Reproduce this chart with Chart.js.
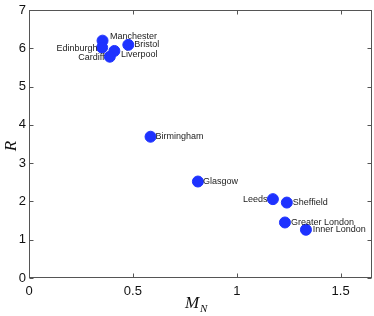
<!DOCTYPE html>
<html>
<head>
<meta charset="utf-8">
<script src="https://cdn.jsdelivr.net/npm/chart.js@4"></script>
<style>
  html, body { margin: 0; padding: 0; background: #fff; }
  #wrap { width: 374px; height: 316px; }
</style>
</head>
<body>
<div id="wrap"><canvas id="chart" width="374" height="316"></canvas></div>
<script>
const cities = ['Manchester', 'Edinburgh', 'Bristol', 'Liverpool', 'Cardiff', 'Birmingham',
                'Glasgow', 'Leeds', 'Sheffield', 'Greater London', 'Inner London'];
const mN = [0.354, 0.352, 0.478, 0.411, 0.389, 0.585, 0.813, 1.174, 1.241, 1.232, 1.333];
const rVals = [6.2, 6.02, 6.09, 5.93, 5.78, 3.69, 2.52, 2.06, 1.97, 1.45, 1.26];
const xTicks = [0, 0.5, 1, 1.5];
const yTicks = [0, 1, 2, 3, 4, 5, 6, 7];

const BLUE = '#1e32ff';
const AXIS = '#555';
const labelsLeft = ['Edinburgh', 'Cardiff', 'Leeds'];
const labelNudge = {
  'Manchester': [1.5, -4.3], 'Liverpool': [0.5, 3.4], 'Cardiff': [0, 0.7],
  'Edinburgh': [0.8, 0.7], 'Birmingham': [-1, 0], 'Glasgow': [-1, 0], 'Inner London': [0.7, 0]
};

const frame = {
  id: 'frame',
  afterDatasetsDraw(chart) {
    const { ctx, chartArea: a, scales: { x, y } } = chart;
    ctx.save();
    // point labels
    ctx.font = '9px "Liberation Sans", Arial, sans-serif';
    ctx.fillStyle = '#222';
    ctx.textBaseline = 'middle';
    cities.forEach((c, i) => {
      const [nx, ny] = labelNudge[c] || [0, 0];
      const px = x.getPixelForValue(mN[i]) + nx;
      const py = y.getPixelForValue(rVals[i]) + ny;
      if (labelsLeft.includes(c)) {
        ctx.textAlign = 'right';
        ctx.fillText(c, px - 5.3, py);
      } else {
        ctx.textAlign = 'left';
        ctx.fillText(c, px + 6, py);
      }
    });
    // box
    ctx.strokeStyle = AXIS;
    ctx.lineWidth = 1;
    const L = Math.round(a.left) + 0.5, T = Math.round(a.top) + 0.5;
    const R = Math.round(a.right) - 0.5, B = Math.round(a.bottom) - 0.5;
    ctx.strokeRect(L, T, R - L, B - T);
    // inward ticks
    ctx.beginPath();
    xTicks.forEach(v => {
      const px = Math.round(x.getPixelForValue(v)) + 0.5;
      ctx.moveTo(px, B); ctx.lineTo(px, B - 4);
      ctx.moveTo(px, T); ctx.lineTo(px, T + 4);
    });
    yTicks.forEach(v => {
      const py = Math.round(y.getPixelForValue(v)) + 0.5;
      ctx.moveTo(L, py); ctx.lineTo(L + 4, py);
      ctx.moveTo(R, py); ctx.lineTo(R - 4, py);
    });
    ctx.stroke();
    // axis titles
    ctx.fillStyle = '#111';
    ctx.textAlign = 'left';
    ctx.textBaseline = 'alphabetic';
    ctx.font = 'italic 17px "Liberation Serif", "DejaVu Serif", serif';
    ctx.fillText('M', 185, 308);
    ctx.font = 'italic 11px "Liberation Serif", "DejaVu Serif", serif';
    ctx.fillText('N', 200, 312);
    ctx.save();
    ctx.translate(16, 146);
    ctx.rotate(-Math.PI / 2);
    ctx.font = 'italic 17px "Liberation Serif", "DejaVu Serif", serif';
    ctx.textAlign = 'center';
    ctx.fillText('R', 0, 0);
    ctx.restore();
    ctx.restore();
  }
};

new Chart(document.getElementById('chart'), {
  type: 'scatter',
  data: {
    datasets: [{
      data: mN.map((v, i) => ({ x: v, y: rVals[i] })),
      backgroundColor: BLUE,
      borderColor: BLUE,
      pointRadius: 5.5,
      pointHoverRadius: 5.5
    }]
  },
  options: {
    responsive: false,
    animation: false,
    layout: { autoPadding: false, padding: { top: 10, right: 2, left: 0, bottom: 0 } },
    plugins: { legend: { display: false }, tooltip: { enabled: false } },
    scales: {
      x: {
        type: 'linear', min: 0, max: 1.651,
        afterBuildTicks: s => { s.ticks = xTicks.map(v => ({ value: v })); },
        afterFit: s => { s.height = 38; s.paddingLeft = 0; s.paddingRight = 0; },
        grid: { display: false, drawTicks: false },
        border: { display: false },
        ticks: {
          padding: 6, color: '#111', maxRotation: 0,
          font: { family: '"Liberation Sans", Arial, sans-serif', size: 13 },
          callback: v => String(v)
        }
      },
      y: {
        type: 'linear', min: 0, max: 7,
        afterBuildTicks: s => { s.ticks = yTicks.map(v => ({ value: v })); },
        afterFit: s => { s.width = 29; s.paddingTop = 0; s.paddingBottom = 0; },
        grid: { display: false, drawTicks: false },
        border: { display: false },
        ticks: {
          padding: 3, color: '#111',
          font: { family: '"Liberation Sans", Arial, sans-serif', size: 13 },
          callback: v => String(v)
        }
      }
    }
  },
  plugins: [frame]
});
</script>
</body>
</html>
